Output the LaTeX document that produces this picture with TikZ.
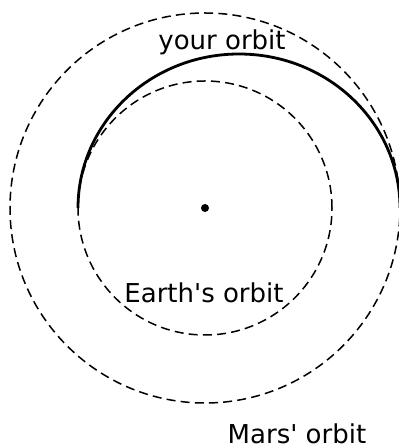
\documentclass[tikz,border=0pt]{standalone}
\usepackage{fontspec}
\setmainfont{DejaVu Sans}
\usetikzlibrary{positioning}
\tikzset{
  orbit/.style    = {line width=0.75pt, dash pattern=on 4.5pt off 2.6pt},
  transfer/.style = {line width=1.4pt},
  lbl/.style      = {font=\fontsize{13}{15}\selectfont, inner sep=0pt},
}
\begin{document}
\begin{tikzpicture}[x=0.5pt, y=0.5pt]
  \useasboundingbox (-205,-240) rectangle (193,208);
  \fill (0,0) circle[radius=4] node (sun) {};
  \draw[orbit] (sun.center) circle[radius=127];
  \draw[orbit] (sun.center) circle[radius=195];
  \draw[transfer] (-127,0) arc[start angle=180, end angle=0, x radius=161, y radius=154];
  \node[lbl] (your) at (17,166) {your orbit};
  \node[lbl] (earth) at (-1,-85) {Earth\textquotesingle s orbit};
  \node[lbl] (mars) at (92,-226) {Mars\textquotesingle\ orbit};
\end{tikzpicture}
\end{document}
